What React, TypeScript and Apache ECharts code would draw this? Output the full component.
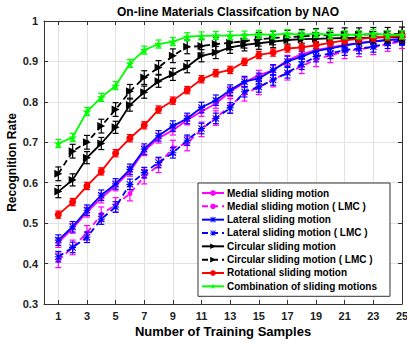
import React, { useEffect, useRef } from 'react';
import * as echarts from 'echarts';

const samples = [1, 2, 3, 4, 5, 6, 7, 8, 9, 10, 11, 12, 13, 14, 15, 16, 17, 18, 19, 20, 21, 22, 23, 24, 25];
const xTickLabels = ['1', '3', '5', '7', '9', '11', '13', '15', '17', '19', '21', '23', '25'];

const medial = [0.452, 0.487, 0.527, 0.562, 0.592, 0.628, 0.679, 0.71, 0.73, 0.755, 0.776, 0.796, 0.825, 0.848, 0.866, 0.878, 0.903, 0.918, 0.928, 0.935, 0.941, 0.946, 0.95, 0.953, 0.956];
const medialLMC = [0.408, 0.44, 0.476, 0.522, 0.545, 0.573, 0.615, 0.643, 0.687, 0.697, 0.732, 0.76, 0.79, 0.82, 0.836, 0.855, 0.872, 0.888, 0.905, 0.915, 0.925, 0.93, 0.935, 0.943, 0.95];
const lateral = [0.458, 0.491, 0.532, 0.569, 0.597, 0.633, 0.683, 0.716, 0.74, 0.759, 0.786, 0.804, 0.829, 0.85, 0.858, 0.879, 0.9, 0.912, 0.926, 0.932, 0.939, 0.945, 0.949, 0.953, 0.955];
const lateralLMC = [0.417, 0.44, 0.465, 0.51, 0.54, 0.596, 0.625, 0.65, 0.674, 0.705, 0.734, 0.759, 0.785, 0.825, 0.837, 0.854, 0.872, 0.893, 0.912, 0.92, 0.928, 0.932, 0.936, 0.945, 0.953];
const circular = [0.578, 0.607, 0.662, 0.697, 0.737, 0.792, 0.824, 0.851, 0.868, 0.887, 0.914, 0.922, 0.935, 0.941, 0.945, 0.949, 0.953, 0.955, 0.956, 0.957, 0.958, 0.958, 0.959, 0.96, 0.96];
const circularLMC = [0.622, 0.678, 0.7, 0.74, 0.781, 0.826, 0.86, 0.885, 0.914, 0.936, 0.938, 0.943, 0.946, 0.95, 0.955, 0.958, 0.96, 0.962, 0.964, 0.965, 0.966, 0.966, 0.967, 0.967, 0.968];
const rotational = [0.521, 0.552, 0.592, 0.628, 0.673, 0.71, 0.742, 0.781, 0.803, 0.829, 0.856, 0.871, 0.879, 0.899, 0.916, 0.922, 0.932, 0.935, 0.94, 0.946, 0.952, 0.956, 0.959, 0.961, 0.963];
const combination = [0.697, 0.712, 0.776, 0.811, 0.84, 0.895, 0.928, 0.943, 0.949, 0.961, 0.963, 0.964, 0.964, 0.965, 0.967, 0.966, 0.969, 0.966, 0.969, 0.966, 0.966, 0.966, 0.969, 0.966, 0.966];

const seriesNames = [
  'Medial sliding motion',
  'Medial sliding motion ( LMC )',
  'Lateral sliding motion',
  'Lateral sliding motion ( LMC )',
  'Circular sliding motion',
  'Circular sliding motion ( LMC )',
  'Rotational sliding motion',
  'Combination of sliding motions',
];
const seriesValues = [medial, medialLMC, lateral, lateralLMC, circular, circularLMC, rotational, combination];
const seriesColors = ['#ff00ff', '#ff00ff', '#0000ff', '#0000ff', '#000000', '#000000', '#ff0000', '#00ff00'];
const seriesDashed = [false, true, false, true, false, true, false, false];
const errHalf = [0.012, 0.018, 0.013, 0.013, 0.015, 0.017, 0.009, 0.01];

const STAR = 'path://M50,0 L61,35 L98,35 L68,57 L79,91 L50,70 L21,91 L32,57 L2,35 L39,35 Z';
const TRI_RIGHT = 'path://M0,0 L10,5 L0,10 Z';
const ASTER = 'path://M4.2,0 H5.8 V4.2 H10 V5.8 H5.8 V10 H4.2 V5.8 H0 V4.2 H4.2 Z M0,1.1 L1.1,0 L10,8.9 L8.9,10 Z M8.9,0 L10,1.1 L1.1,10 L0,8.9 Z';
const seriesSymbols = ['circle', 'circle', ASTER, ASTER, TRI_RIGHT, TRI_RIGHT, 'circle', STAR];
const seriesSymbolSizes = [5, 5, 7, 7, 8, 8, 7, 9];

const FONT = 'Liberation Sans, Arial, Helvetica, sans-serif';

export default function App() {
  const ref = useRef<HTMLDivElement>(null);
  useEffect(() => {
    if (!ref.current) return;
    const chart = echarts.init(ref.current, null, { renderer: 'svg' });
    const axisCats = Array.from({ length: 26 }, (_, i) => String(i));
    const isLabeled = (i: number) => xTickLabels.includes(String(i));

    const lineSeries: any[] = seriesNames.map((name, k) => ({
      name,
      type: 'line',
      xAxisIndex: 0,
      yAxisIndex: 0,
      data: samples.map((s, i) => [s, seriesValues[k][i]]),
      symbol: seriesSymbols[k],
      symbolSize: seriesSymbolSizes[k],
      showAllSymbol: true,
      lineStyle: { color: seriesColors[k], width: 1.8, type: seriesDashed[k] ? [6, 4] : 'solid' },
      itemStyle: { color: seriesColors[k] },
      z: 3 + k,
    }));

    const errSeries: any[] = seriesNames.map((name, k) => ({
      name: 'err-' + k,
      type: 'custom',
      xAxisIndex: 0,
      yAxisIndex: 0,
      data: samples.map((s, i) => [s, seriesValues[k][i] - errHalf[k], seriesValues[k][i] + errHalf[k]]),
      encode: { x: 0, y: [1, 2] },
      z: 3 + k,
      renderItem: (params: any, api: any) => {
        const x = api.value(0);
        const lo = api.coord([x, api.value(1)]);
        const hi = api.coord([x, api.value(2)]);
        const w = 3;
        const style = { stroke: seriesColors[k], lineWidth: 1.2 };
        return {
          type: 'group',
          children: [
            { type: 'line', shape: { x1: lo[0], y1: lo[1], x2: hi[0], y2: hi[1] }, style },
            { type: 'line', shape: { x1: lo[0] - w, y1: lo[1], x2: lo[0] + w, y2: lo[1] }, style },
            { type: 'line', shape: { x1: hi[0] - w, y1: hi[1], x2: hi[0] + w, y2: hi[1] }, style },
          ],
        };
      },
    }));

    const series: any[] = [];
    for (let k = 0; k < seriesNames.length; k++) {
      series.push(errSeries[k]);
      series.push(lineSeries[k]);
    }

    const axisLineStyle = { color: '#333333', width: 1 };

    chart.setOption({
      animation: false,
      backgroundColor: '#ffffff',
      textStyle: { fontFamily: FONT },
      title: {
        text: 'On-line Materials Classifcation by NAO',
        left: 223,
        top: 1,
        textAlign: 'center',
        textStyle: { fontSize: 12, fontWeight: 'bold', color: '#000', fontFamily: FONT },
      },
      grid: { left: 44, right: 5, top: 21, bottom: 39, containLabel: false, outerBoundsMode: 'none' },
      legend: {
        data: seriesNames,
        orient: 'vertical',
        left: 198,
        top: 183,
        padding: [5, 13, 5, 3],
        itemWidth: 22,
        itemHeight: 7,
        itemGap: 3.33,
        backgroundColor: '#ffffff',
        borderColor: '#333333',
        borderWidth: 1,
        borderRadius: 0,
        textStyle: { fontSize: 10, lineHeight: 10, fontWeight: 'bold', color: '#000', fontFamily: FONT, padding: [0, 0, 0, -2] },
      },
      xAxis: [
        {
          type: 'category',
          data: axisCats,
          boundaryGap: false,
          name: 'Number of Training Samples',
          nameLocation: 'middle',
          nameGap: 21,
          nameMoveOverlap: false,
          nameTextStyle: { fontSize: 13, fontWeight: 'bold', color: '#000', fontFamily: FONT },
          axisLine: { show: true, lineStyle: axisLineStyle },
          axisTick: { show: true, inside: true, length: 4, interval: (i: number) => isLabeled(i), lineStyle: axisLineStyle },
          axisLabel: { interval: (i: number) => isLabeled(i), fontSize: 11, fontWeight: 'bold', color: '#222', margin: 6, fontFamily: FONT },
          splitLine: { show: true, interval: (i: number) => isLabeled(i), lineStyle: { color: '#e3e3e3', width: 1 } },
        },
        {
          type: 'category',
          data: axisCats,
          boundaryGap: false,
          position: 'top',
          axisLine: { show: true, lineStyle: axisLineStyle },
          axisTick: { show: true, inside: true, length: 4, interval: (i: number) => isLabeled(i), lineStyle: axisLineStyle },
          axisLabel: { show: false },
          splitLine: { show: false },
        },
      ],
      yAxis: [
        {
          type: 'value',
          min: 0.3,
          max: 1,
          interval: 0.1,
          name: 'Recognition Rate',
          nameLocation: 'middle',
          nameGap: 26,
          nameMoveOverlap: false,
          nameTextStyle: { fontSize: 12, fontWeight: 'bold', color: '#000', fontFamily: FONT },
          axisLine: { show: true, lineStyle: axisLineStyle },
          axisTick: { show: true, inside: true, length: 4, lineStyle: axisLineStyle },
          axisLabel: {
            fontSize: 11,
            fontWeight: 'bold',
            color: '#222',
            margin: 6,
            fontFamily: FONT,
            formatter: (v: number) => String(Math.round(v * 10) / 10),
          },
          splitLine: { show: true, lineStyle: { color: '#e3e3e3', width: 1 } },
        },
        {
          type: 'value',
          min: 0.3,
          max: 1,
          interval: 0.1,
          position: 'right',
          axisLine: { show: true, lineStyle: axisLineStyle },
          axisTick: { show: true, inside: true, length: 4, lineStyle: axisLineStyle },
          axisLabel: { show: false },
          splitLine: { show: false },
        },
      ],
      series,
    });
    return () => chart.dispose();
  }, []);
  return <div ref={ref} style={{ position: 'fixed', left: 0, top: 0, width: 407, height: 343 }} />;
}
